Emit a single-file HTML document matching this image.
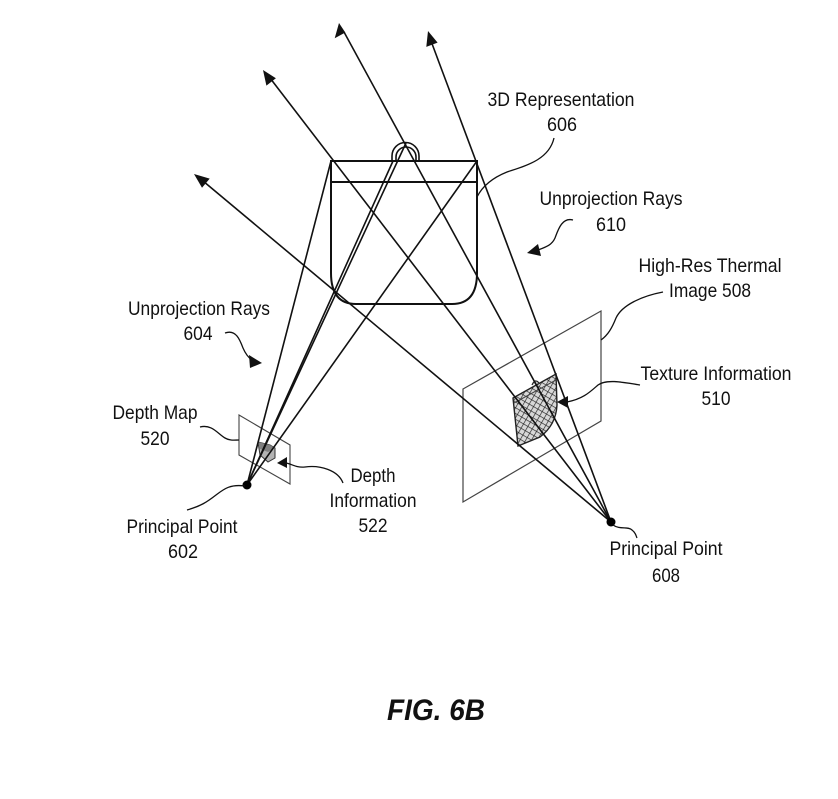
<!DOCTYPE html>
<html>
<head>
<meta charset="utf-8">
<style>
  html,body{margin:0;padding:0;background:#fff;}
  svg{display:block;}
  text{font-family:"Liberation Sans",Arial,sans-serif;fill:#111;}
</style>
</head>
<body>
<svg width="838" height="799" viewBox="0 0 838 799" xmlns="http://www.w3.org/2000/svg">
  <defs>
    <pattern id="hatch" width="5" height="5" patternUnits="userSpaceOnUse" patternTransform="rotate(30)">
      <rect width="5" height="5" fill="#d8d8d8"/>
      <line x1="0" y1="0" x2="0" y2="5" stroke="#222" stroke-width="1.3"/>
      <line x1="0" y1="0" x2="5" y2="0" stroke="#222" stroke-width="1.3"/>
    </pattern>
  </defs>

  <!-- Depth map plane -->
  <polygon points="239,415 290,445 290,484 239,455" fill="none" stroke="#444" stroke-width="1.1"/>
  <!-- depth patch -->
  <polygon points="258,442 270,445 275,448 275,458 268,462 260,455" fill="#b4b4b4" stroke="#333" stroke-width="1"/>
  <polygon points="258,442 270,445 275,448 268,452 260,449" fill="#808080" stroke="none"/>

  <!-- Thermal image plane -->
  <polygon points="463,389 601,311 601,421 463,502" fill="none" stroke="#444" stroke-width="1.2"/>
  <!-- texture patch -->
  <path d="M513,398 L556,374 L557,405 Q556,425 540,437 L518,446 Z" fill="url(#hatch)" stroke="#222" stroke-width="1.4"/>
  <path d="M514,403 L556,380" stroke="#444" stroke-width="1" fill="none"/>
  <path d="M532,385 Q535,378 539,383" stroke="#222" stroke-width="1.2" fill="#ccc"/>

  <!-- Bag (3D representation) -->
  <g fill="none" stroke="#111" stroke-width="2">
    <path d="M331,161 L477,161 L477,273 C477,292 470,304 452,304 L356,304 C338,304 331,292 331,273 Z"/>
    <line x1="331" y1="182" x2="477" y2="182"/>
    <path d="M392,161 L392,156 A13.5,13.5 0 0 1 419,156 L419,161" stroke-width="1.6"/>
    <path d="M396,161 L396,157 A10,10 0 0 1 416,157 L416,161" stroke-width="1.6"/>
  </g>

  <!-- Rays from 602 -->
  <g stroke="#111" stroke-width="1.6" fill="none">
    <line x1="247" y1="485" x2="331" y2="161"/>
    <line x1="247" y1="485" x2="393" y2="161"/>
    <line x1="247" y1="485" x2="406" y2="143"/>
    <line x1="247" y1="485" x2="477" y2="161"/>
  </g>

  <!-- Rays from 608 with arrows -->
  <g stroke="#111" stroke-width="1.6" fill="none">
    <line x1="611" y1="522" x2="344" y2="32"/>
    <line x1="611" y1="522" x2="431" y2="41"/>
    <line x1="611" y1="522" x2="270" y2="78"/>
    <line x1="611" y1="522" x2="203" y2="181"/>
  </g>
  <g fill="#111">
    <polygon points="339,23 334.7,38.3 345.3,32.5"/>
    <polygon points="428,31 426.3,46.9 437.6,42.6"/>
    <polygon points="263,70 266.4,85.6 275.9,78.3"/>
    <polygon points="194,174 202.0,187.8 209.7,178.6"/>
  </g>

  <!-- principal points -->
  <circle cx="247" cy="485" r="4.5" fill="#000"/>
  <circle cx="611" cy="522" r="4.5" fill="#000"/>

  <!-- Leader lines -->
  <g fill="none" stroke="#111" stroke-width="1.3">
    <path d="M554,138 C549,160 525,166 507,172 C492,178 482,187 477,197"/>
    <path d="M573,220 C562,217 558,230 555,238 C552,245 546,247 538,250"/>
    <path d="M663,292 C642,296 622,305 616,318 C612,328 608,335 601,340"/>
    <path d="M640,385 C622,382 606,379 598,385 C590,392 583,399 567,402"/>
    <path d="M613,525 C620,530 628,526 632,530 C636,533 636,536 637,538"/>
    <path d="M225,333 C236,329 240,340 243,348 C246,355 249,358 252,360"/>
    <path d="M200,427 C212,424 218,434 225,438 C230,441 235,440 239,440"/>
    <path d="M343,483 C338,470 320,465 305,467 C296,468 292,464 286,463"/>
    <path d="M245,486 C230,484 224,489 216,495 C207,502 201,506 187,510"/>
  </g>
  <g fill="#111">
    <polygon points="262,363 249,355 250,368"/>
    <polygon points="527,253 538,244 541,256"/>
    <polygon points="557,402 568,396 568,408"/>
    <polygon points="277,463 287,457 287,468"/>
  </g>

  <!-- Labels -->
  <g font-size="19.5" text-anchor="middle">
    <text x="561" y="106" textLength="147" lengthAdjust="spacingAndGlyphs">3D Representation</text>
    <text x="562" y="131" textLength="30" lengthAdjust="spacingAndGlyphs">606</text>
    <text x="611" y="205" textLength="143" lengthAdjust="spacingAndGlyphs">Unprojection Rays</text>
    <text x="611" y="231" textLength="30" lengthAdjust="spacingAndGlyphs">610</text>
    <text x="710" y="272" textLength="143" lengthAdjust="spacingAndGlyphs">High-Res Thermal</text>
    <text x="710" y="297" textLength="82" lengthAdjust="spacingAndGlyphs">Image 508</text>
    <text x="716" y="380" textLength="151" lengthAdjust="spacingAndGlyphs">Texture Information</text>
    <text x="716" y="405" textLength="29" lengthAdjust="spacingAndGlyphs">510</text>
    <text x="666" y="555" textLength="113" lengthAdjust="spacingAndGlyphs">Principal Point</text>
    <text x="666" y="582" textLength="28" lengthAdjust="spacingAndGlyphs">608</text>
    <text x="199" y="315" textLength="142" lengthAdjust="spacingAndGlyphs">Unprojection Rays</text>
    <text x="198" y="340" textLength="29" lengthAdjust="spacingAndGlyphs">604</text>
    <text x="155" y="419" textLength="85" lengthAdjust="spacingAndGlyphs">Depth Map</text>
    <text x="155" y="445" textLength="29" lengthAdjust="spacingAndGlyphs">520</text>
    <text x="373" y="482" textLength="45" lengthAdjust="spacingAndGlyphs">Depth</text>
    <text x="373" y="507" textLength="87" lengthAdjust="spacingAndGlyphs">Information</text>
    <text x="373" y="532" textLength="29" lengthAdjust="spacingAndGlyphs">522</text>
    <text x="182" y="533" textLength="111" lengthAdjust="spacingAndGlyphs">Principal Point</text>
    <text x="183" y="558" textLength="30" lengthAdjust="spacingAndGlyphs">602</text>
  </g>
  <text x="436" y="720" font-size="30" font-weight="bold" font-style="italic" text-anchor="middle" textLength="98" lengthAdjust="spacingAndGlyphs">FIG. 6B</text>
</svg>
</body>
</html>
